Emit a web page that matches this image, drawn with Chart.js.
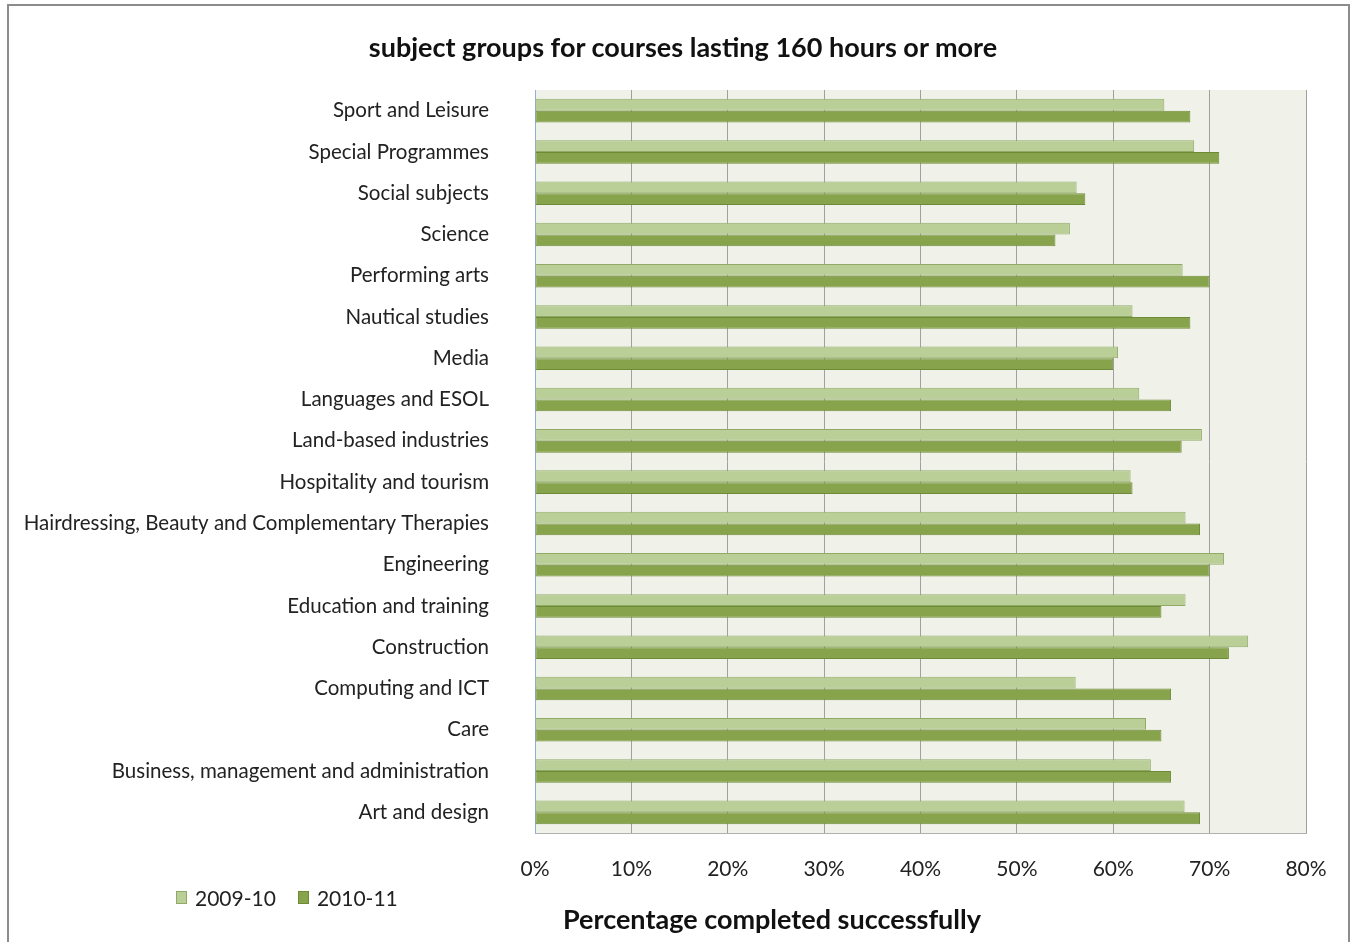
<!DOCTYPE html>
<html>
<head>
<meta charset="utf-8">
<script src="https://cdn.jsdelivr.net/npm/chart.js@4.4.1/dist/chart.umd.min.js"></script>
<style>
    html, body { margin: 0; padding: 0; background: #fff; }
    body { width: 1354px; height: 942px; position: relative; overflow: hidden; font-family: Lato, sans-serif; }
    #frame { position: absolute; left: 7px; top: 4px; width: 1343px; height: 960px; border: 2px solid #8c8c8c; box-sizing: border-box; }
    #chart-wrap { position: absolute; left: 0; top: 0; width: 1354px; height: 942px; }
    #chart-title { position: absolute; left: 0; top: 30px; width: 1366px; text-align: center; font-size: 27px; font-weight: bold; color: #111; white-space: nowrap; }
    #legend { position: absolute; left: 176px; top: 885px; display: flex; align-items: center; font-size: 21px; color: #222; }
    #legend .item { display: flex; align-items: center; margin-right: 22px; }
    #legend .swatch { width: 11px; height: 13px; margin-right: 8px; box-sizing: border-box; }
    #axis-caption { position: absolute; left: 563px; top: 902px; font-size: 27px; font-weight: bold; color: #111; white-space: nowrap; }
</style>
</head>
<body>
<div id="frame"></div>
<div id="chart-wrap"><canvas id="completion-chart" width="1354" height="942"></canvas></div>
<div id="chart-title">subject groups for courses lasting 160 hours or more</div>
<div id="legend"></div>
<div id="axis-caption">Percentage completed successfully</div>
<script>
    'use strict';

    // Subject groups, listed top to bottom
    const subjects = [
        'Sport and Leisure',
        'Special Programmes',
        'Social subjects',
        'Science',
        'Performing arts',
        'Nautical studies',
        'Media',
        'Languages and ESOL',
        'Land-based industries',
        'Hospitality and tourism',
        'Hairdressing, Beauty and Complementary Therapies',
        'Engineering',
        'Education and training',
        'Construction',
        'Computing and ICT',
        'Care',
        'Business, management and administration',
        'Art and design'
    ];

    // Percentage completed successfully, per year
    const rates2009 = [65.3, 68.4, 56.2, 55.5, 67.2, 62.0, 60.5, 62.7, 69.2, 61.8, 67.5, 71.5, 67.5, 74.0, 56.1, 63.4, 63.9, 67.4];
    const rates2010 = [68.0, 71.0, 57.1, 54.0, 70.0, 68.0, 60.0, 66.0, 67.1, 62.0, 69.0, 70.0, 65.0, 72.0, 66.0, 65.0, 66.0, 69.0];

    const years = ['2009-10', '2010-11'];
    const fills = ['#bacf97', '#87a34b'];
    const edges = ['#90aa66', '#6d8a37'];

    // Pale plot-area background
    const plotBackground = {
        id: 'plotBackground',
        beforeDraw(chart) {
            const { ctx, chartArea } = chart;
            ctx.save();
            ctx.fillStyle = '#f0f2ea';
            ctx.fillRect(chartArea.left, chartArea.top, chartArea.right - chartArea.left, chartArea.bottom - chartArea.top);
            ctx.restore();
        }
    };

    const ctx = document.getElementById('completion-chart').getContext('2d');
    new Chart(ctx, {
        type: 'bar',
        data: {
            labels: subjects,
            datasets: [
                {
                    label: years[0],
                    data: rates2009,
                    backgroundColor: fills[0],
                    borderColor: edges[0],
                    borderWidth: 1,
                    borderSkipped: false
                },
                {
                    label: years[1],
                    data: rates2010,
                    backgroundColor: fills[1],
                    borderColor: edges[1],
                    borderWidth: 1,
                    borderSkipped: false
                }
            ]
        },
        options: {
            indexAxis: 'y',
            responsive: false,
            animation: false,
            layout: {
                padding: { left: 0, right: 48, top: 90, bottom: 0 }
            },
            datasets: {
                bar: {
                    categoryPercentage: 0.57,
                    barPercentage: 1.0
                }
            },
            plugins: {
                legend: { display: false },
                tooltip: { enabled: false },
                title: { display: false }
            },
            scales: {
                x: {
                    min: 0,
                    max: 80,
                    ticks: {
                        stepSize: 10,
                        color: '#222',
                        padding: 24,
                        font: { family: 'Lato', size: 21 },
                        callback: function(value) { return value + '%'; }
                    },
                    grid: {
                        color: '#a0a0a0',
                        lineWidth: 1,
                        drawTicks: false
                    },
                    border: { display: true, color: '#b0b0b0', width: 1 },
                    afterFit: function(scale) { scale.height = 109; }
                },
                y: {
                    grid: { display: false, drawTicks: false },
                    border: { display: true, color: '#8fb0d8', width: 1 },
                    ticks: {
                        color: '#222',
                        padding: 46,
                        font: { family: 'Lato', size: 20.5 }
                    },
                    afterFit: function(scale) { scale.width = 535; }
                }
            }
        },
        plugins: [plotBackground]
    });

    // Legend row beneath the axis
    const legendBox = document.getElementById('legend');
    years.forEach(function(year, i) {
        const item = document.createElement('div');
        item.className = 'item';
        item.innerHTML = '<span class="swatch" style="background:' + fills[i] + ';border:1px solid ' + edges[i] + '"></span>' + year;
        legendBox.appendChild(item);
    });
</script>
</body>
</html>
